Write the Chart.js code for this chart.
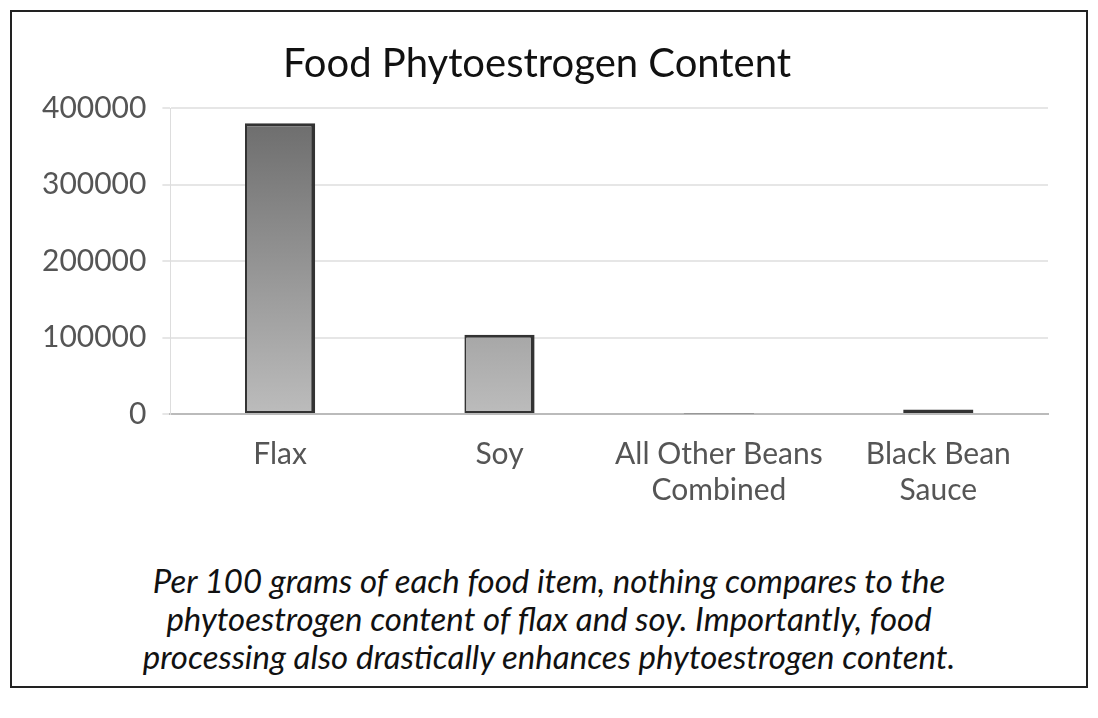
<!DOCTYPE html>
<html><head><meta charset="utf-8">
<script src="https://cdn.jsdelivr.net/npm/chart.js"></script>
<style>
html,body{margin:0;padding:0;background:#fff;width:1098px;height:718px;overflow:hidden;font-family:Lato,sans-serif}
#box{position:absolute;left:10px;top:10px;width:1074px;height:674px;border:2px solid #222;}
#wrap{position:absolute;left:12px;top:30px;width:1060px;height:492px;}
#cap{position:absolute;left:12px;top:561px;width:1074px;text-align:center;font-style:italic;font-size:33px;line-height:38px;color:#111;}
</style></head><body>
<div id="box"></div>
<div id="wrap"><canvas id="c"></canvas></div>
<div id="cap">Per 100 grams of each food item, nothing compares to the<br>phytoestrogen content of flax and soy. Importantly, food<br>processing also drastically enhances phytoestrogen content.</div>
<script>
const categories=[["Flax"],["Soy"],["All Other Beans","Combined"],["Black Bean","Sauce"]];
const values=[380000,103500,800,6000];
const ctx=document.getElementById('c').getContext('2d');
new Chart(ctx,{type:'bar',
data:{labels:categories,datasets:[{data:values,
backgroundColor:(c)=>{const a=c.chart.chartArea;if(!a)return '#888';const g=c.chart.ctx.createLinearGradient(0,a.top,0,a.bottom);g.addColorStop(0,'#6a6a6a');g.addColorStop(1,'#bcbcbc');return g;},
borderColor:'#333',borderWidth:{left:2,right:4,top:3,bottom:2},borderSkipped:false,
barPercentage:0.32,categoryPercentage:1}]},
options:{responsive:true,maintainAspectRatio:false,animation:false,
layout:{padding:{left:14,right:24,top:0,bottom:0}},
plugins:{legend:{display:false},tooltip:{enabled:false},
title:{display:true,text:'Food Phytoestrogen Content',color:'#111',font:{family:'Lato',size:40,weight:'normal'},padding:{top:10,bottom:20}}},
scales:{x:{grid:{display:false},border:{color:'#bbb',width:2},ticks:{color:'#555',font:{family:'Lato',size:30,lineHeight:1.2},padding:14}},
y:{min:0,max:400000,ticks:{stepSize:50000,color:'#555',font:{family:'Lato',size:30},padding:16,callback:(v)=>String(v)},
grid:{color:'#e6e6e6',lineWidth:2},border:{display:true,color:'#ddd'}}}}});
</script></body></html>
